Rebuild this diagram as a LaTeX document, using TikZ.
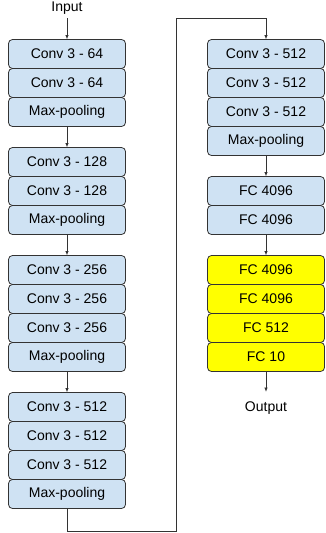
\documentclass[tikz,border=0pt]{standalone}
\usepackage{fontspec}
\setmainfont{Liberation Sans}
\usetikzlibrary{positioning,arrows.meta}

\definecolor{convblue}{HTML}{CFE2F3}
\definecolor{fcyellow}{HTML}{FFFF00}
\definecolor{edgegray}{HTML}{333333}

\begin{document}
\begin{tikzpicture}[x=1pt, y=1pt, >={Latex[length=4.5pt,width=3.5pt]},
  font=\fontsize{14}{16}\selectfont,
  layer/.style={draw=edgegray, fill=convblue, rounded corners=4pt,
    minimum width=117pt, minimum height=29pt, inner sep=0pt, outer sep=0pt,
    line width=0.8pt},
  fclayer/.style={layer, fill=fcyellow},
  link/.style={draw=edgegray, line width=0.8pt},
  lbl/.style={inner sep=0pt, outer sep=0pt}]

  \useasboundingbox (0,0) rectangle (325,-533);

  % Input
  \node[lbl, minimum height=20pt] (in) at (67,-8) {Input};

  % Block 1
  \node[layer] (c11) at (67,-54) {Conv 3 - 64};
  \node[layer, below=0pt of c11] (c12) {Conv 3 - 64};
  \node[layer, below=0pt of c12] (p1) {Max-pooling};

  % Block 2
  \node[layer, below=21pt of p1] (c21) {Conv 3 - 128};
  \node[layer, below=0pt of c21] (c22) {Conv 3 - 128};
  \node[layer, below=0pt of c22] (p2) {Max-pooling};

  % Block 3
  \node[layer, below=21pt of p2] (c31) {Conv 3 - 256};
  \node[layer, below=0pt of c31] (c32) {Conv 3 - 256};
  \node[layer, below=0pt of c32] (c33) {Conv 3 - 256};
  \node[layer, below=0pt of c33] (p3) {Max-pooling};

  % Block 4
  \node[layer, below=21pt of p3] (c41) {Conv 3 - 512};
  \node[layer, below=0pt of c41] (c42) {Conv 3 - 512};
  \node[layer, below=0pt of c42] (c43) {Conv 3 - 512};
  \node[layer, below=0pt of c43] (p4) {Max-pooling};

  % Block 5 (right column)
  \node[layer] (c51) at (266,-54) {Conv 3 - 512};
  \node[layer, below=0pt of c51] (c52) {Conv 3 - 512};
  \node[layer, below=0pt of c52] (c53) {Conv 3 - 512};
  \node[layer, below=0pt of c53] (p5) {Max-pooling};

  % Fully connected
  \node[layer, below=21pt of p5] (fc1) {FC 4096};
  \node[layer, below=0pt of fc1] (fc2) {FC 4096};

  % New fully connected (yellow)
  \node[fclayer, below=21pt of fc2] (fc3) {FC 4096};
  \node[fclayer, below=0pt of fc3] (fc4) {FC 4096};
  \node[fclayer, below=0pt of fc4] (fc5) {FC 512};
  \node[fclayer, below=0pt of fc5] (fc6) {FC 10};

  % Output
  \node[lbl, minimum height=32pt, anchor=north] (out) at (266,-392) {Output};

  % Arrows
  \draw[link, ->] (in) -- (c11);
  \draw[link, ->] (p1) -- (c21);
  \draw[link, ->] (p2) -- (c31);
  \draw[link, ->] (p3) -- (c41);
  \draw[link, ->] (p5) -- (fc1);
  \draw[link, ->] (fc2) -- (fc3);
  \draw[link, ->] (fc6) -- (out);

  % Jump to right column
  \coordinate (turnA) at (176,-531);
  \coordinate (turnB) at (176,-18);
  \draw[link, ->] (p4.south) |- (turnA) -- (turnB) -| (c51.north);

\end{tikzpicture}
\end{document}
